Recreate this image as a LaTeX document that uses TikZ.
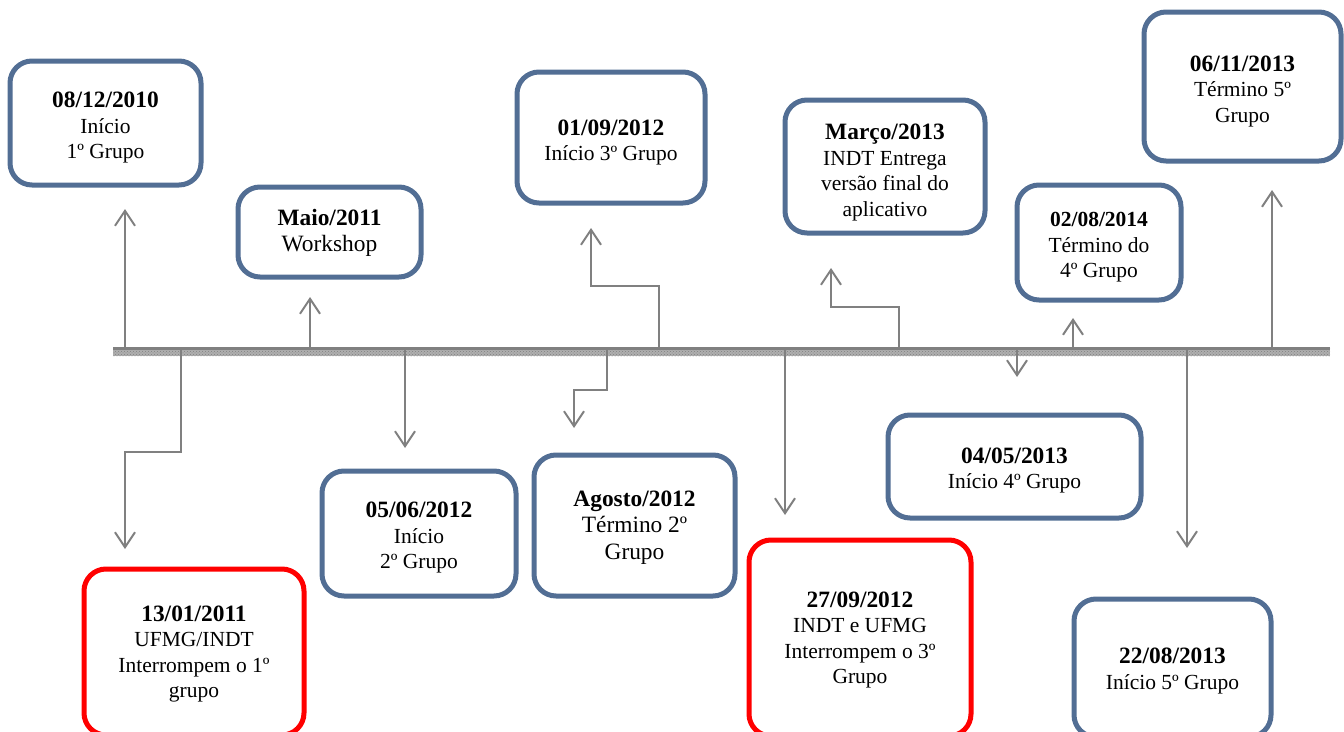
\documentclass[tikz,border=0pt]{standalone}
\usepackage{fontspec}
\setmainfont{Liberation Serif}
\usetikzlibrary{arrows.meta,patterns}
\definecolor{boxblue}{RGB}{82,110,148}
\definecolor{boxred}{RGB}{255,0,0}
\definecolor{conngray}{RGB}{128,128,128}
\definecolor{barlight}{RGB}{175,175,175}
\newcommand{\dsz}{\fontsize{23.4}{26}\selectfont\bfseries}
\newcommand{\dsm}{\fontsize{21.5}{25}\selectfont\bfseries}
\tikzset{
  evbox/.style={draw=boxblue, line width=5pt, rounded corners=22pt, fill=white,
    inner sep=0pt},
  redbox/.style={evbox, draw=boxred},
  txt/.style={inner sep=0pt, align=center, font=\fontsize{21.5}{25.5}\selectfont},
  bigtxt/.style={txt, font=\fontsize{23.4}{26.5}\selectfont},
  conn/.style={draw=conngray, line width=2pt,
    -{Straight Barb[length=15pt,width=20pt]}},
}
\begin{document}
\begin{tikzpicture}[x=1pt,y=-1pt]
\useasboundingbox (0,0) rectangle (1344,731);
\clip (0,0) rectangle (1344,731);
% timeline bar
\node[draw=none, fill=barlight, minimum width=1217pt, minimum height=9pt, inner sep=0pt, outer sep=0pt] (bar) at (721.5,351.5) {};
\fill[pattern=crosshatch dots, pattern color=gray] (bar.south west) rectangle (bar.north east);
\fill[conngray] (bar.north west) rectangle ([yshift=-3pt]bar.north east);

% boxes above
\node[evbox, minimum width=191pt, minimum height=124pt] (b1) at (105.5,123) {};
\node[txt] (b1t) at ([yshift=-5pt]b1.center) {{\dsz 08/12/2010}\\Início\\1º Grupo};
\node[evbox, minimum width=183pt, minimum height=90pt] (b2) at (329.5,232) {};
\node[bigtxt] (b2t) at ([yshift=-1pt]b2.center) {{\dsz Maio/2011}\\Workshop};
\node[evbox, minimum width=188pt, minimum height=131pt] (b3) at (611,137.5) {};
\node[txt] (b3t) at ([yshift=-5pt]b3.center) {{\dsz 01/09/2012}\\Início 3º Grupo};
\node[evbox, minimum width=200pt, minimum height=133pt] (b4) at (885,166.5) {};
\node[txt] (b4t) at ([yshift=-6pt]b4.center) {{\dsz Março/2013}\\INDT Entrega\\versão final do\\aplicativo};
\node[evbox, minimum width=164pt, minimum height=115pt] (b5) at (1099,242.5) {};
\node[txt] (b5t) at ([yshift=-5pt]b5.center) {{\dsm 02/08/2014}\\Término do\\4º Grupo};
\node[evbox, minimum width=197pt, minimum height=149pt] (b6) at (1242.5,86.5) {};
\node[txt] (b6t) at ([yshift=-5pt]b6.center) {{\dsz 06/11/2013}\\Término 5º\\Grupo};

% boxes below
\node[redbox, minimum width=220pt, minimum height=166pt] (r1) at (194,652) {};
\node[txt] (r1t) at ([yshift=-2pt]r1.center) {{\dsz 13/01/2011}\\UFMG/INDT\\Interrompem o 1º\\grupo};
\node[evbox, minimum width=194pt, minimum height=125pt] (b7) at (419,533.5) {};
\node[txt] (b7t) at ([yshift=-4pt]b7.center) {{\dsz 05/06/2012}\\Início\\2º Grupo};
\node[evbox, minimum width=201pt, minimum height=141pt] (b8) at (634.5,525.5) {};
\node[bigtxt] (b8t) at ([yshift=-2pt]b8.center) {{\dsz Agosto/2012}\\Término 2º\\Grupo};
\node[redbox, minimum width=222pt, minimum height=196pt] (r2) at (860,638) {};
\node[txt] (r2t) at ([yshift=-2pt]r2.center) {{\dsz 27/09/2012}\\INDT e UFMG\\Interrompem o 3º\\Grupo};
\node[evbox, minimum width=253pt, minimum height=103pt] (b9) at (1014.5,466.5) {};
\node[txt] (b9t) at ([yshift=-4pt]b9.center) {{\dsz 04/05/2013}\\Início 4º Grupo};
\node[evbox, minimum width=197pt, minimum height=138pt] (b10) at (1172.5,668) {};
\node[txt] (b10t) at ([yshift=-3pt]b10.center) {{\dsz 22/08/2013}\\Início 5º Grupo};

% anchor points on the bar
\coordinate (p1) at (125,347);
\coordinate (p2) at (310,347);
\coordinate (p3) at (659,347);
\coordinate (p4) at (899,347);
\coordinate (p5) at (1073,347);
\coordinate (p6) at (1272,347);
\coordinate (q1) at (181,347);
\coordinate (q2) at (405,347);
\coordinate (q3) at (607,347);
\coordinate (q4) at (785,347);
\coordinate (q5) at (1017,347);
\coordinate (q6) at (1187,347);
% elbows
\coordinate (e3) at (591,286);
\coordinate (e4) at (831,307);
\coordinate (f1) at (125,452);
\coordinate (f3) at (574,390);

% connectors above
\draw[conn, shorten >=21.5pt] (p1) -- (p1 |- b1.south);
\draw[conn, shorten >=17.5pt] (p2) -- (p2 |- b2.south);
\draw[conn, shorten >=22.5pt] (p3) |- (e3) -- (e3 |- b3.south);
\draw[conn, shorten >=32.5pt] (p4) |- (e4) -- (e4 |- b4.south);
\draw[conn, shorten >=15.5pt] (p5) -- (p5 |- b5.south);
\draw[conn, shorten >=26.5pt] (p6) -- (p6 |- b6.south);
% connectors below
\draw[conn, shorten >=17.5pt] (q1) |- (f1) -- (f1 |- r1.north);
\draw[conn, shorten >=20.5pt] (q2) -- (q2 |- b7.north);
\draw[conn, shorten >=24.5pt] (q3) |- (f3) -- (f3 |- b8.north);
\draw[conn, shorten >=22.5pt] (q4) -- (q4 |- r2.north);
\draw[conn, shorten >=35.5pt] (q5) -- (q5 |- b9.north);
\draw[conn, shorten >=48.5pt] (q6) -- (q6 |- b10.north);
\end{tikzpicture}
\end{document}
